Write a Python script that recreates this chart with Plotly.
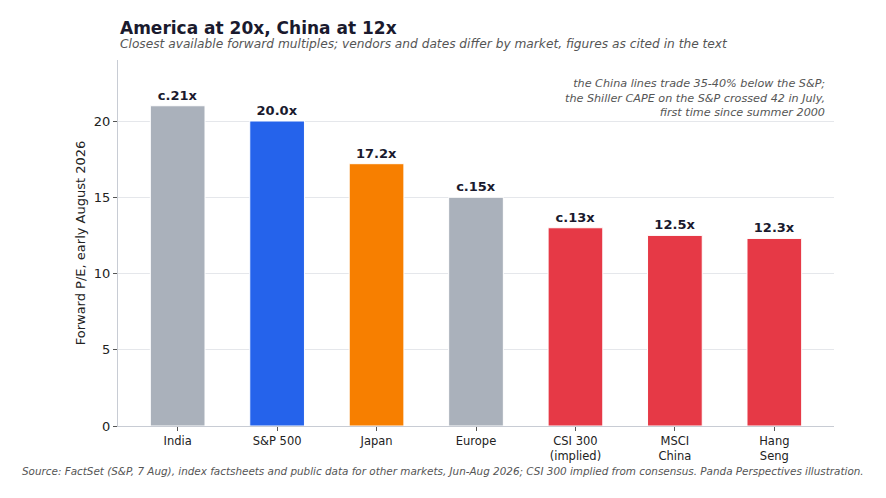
import plotly.graph_objects as go

markets = ["India", "S&P 500", "Japan", "Europe", "CSI 300<br>(implied)", "MSCI<br>China", "Hang<br>Seng"]
pe = [21.0, 20.0, 17.2, 15.0, 13.0, 12.5, 12.3]
pe_labels = ["c.21x", "20.0x", "17.2x", "c.15x", "c.13x", "12.5x", "12.3x"]
bar_colors = ["#aab1bb", "#2563eb", "#f77f00", "#aab1bb", "#e63946", "#e63946", "#e63946"]

FONT = "DejaVu Sans"

fig = go.Figure()

fig.add_trace(go.Bar(
    x=markets, y=pe,
    text=pe_labels, texttemplate="<b>%{text}</b>",
    textposition="outside", cliponaxis=False,
    textfont=dict(family=FONT, size=13, color="#1a1a2e"),
    marker=dict(color=bar_colors, line=dict(color="white", width=1)),
    width=0.55,
    hoverinfo="x+y",
))

# page is drawn with an 8px body margin, so the figure is a bit smaller
fig.update_layout(
    width=878, height=490,
    margin=dict(l=110, r=52, t=52, b=72),
    plot_bgcolor="white", paper_bgcolor="white",
    font=dict(family=FONT, size=12, color="#222"),
    showlegend=False,
)

fig.update_yaxes(
    range=[0, 24], tickvals=[0, 5, 10, 15, 20],
    showgrid=True, gridcolor="#e5e7eb", gridwidth=1,
    showline=True, linecolor="#c8ccd4", linewidth=1,
    ticks="outside", ticklen=4, tickcolor="#555",
    tickfont=dict(size=13, color="#222"),
    title=dict(text="Forward P/E, early August 2026", font=dict(size=13, color="#222"), standoff=5),
    zeroline=False,
)
fig.update_xaxes(
    range=[-0.6, 6.6],
    showline=True, linecolor="#c8ccd4", linewidth=1,
    ticks="outside", ticklen=4, tickcolor="#555",
    tickfont=dict(size=11.5, color="#222"),
)

# title and subtitle
fig.add_annotation(text="<b>America at 20x, China at 12x</b>", xref="paper", yref="paper",
                   x=0, y=1, xanchor="left", yanchor="bottom", yshift=20, showarrow=False,
                   font=dict(size=17, color="#1a1a2e"))
fig.add_annotation(text="<i>Closest available forward multiples; vendors and dates differ by market, figures as cited in the text</i>",
                   xref="paper", yref="paper", x=0, y=1, xanchor="left", yanchor="bottom", yshift=7,
                   showarrow=False, font=dict(size=12.2, color="#555"))

# note top right
fig.add_annotation(text="<i>the China lines trade 35-40% below the S&P;<br>the Shiller CAPE on the S&P crossed 42 in July,<br>first time since summer 2000</i>",
                   xref="paper", yref="paper", x=0.99, y=0.96, xanchor="right", yanchor="top",
                   align="right", showarrow=False, font=dict(size=11.2, color="#555"))

# source
fig.add_annotation(text="<i>Source: FactSet (S&P, 7 Aug), index factsheets and public data for other markets, Jun-Aug 2026; CSI 300 implied from consensus. Panda Perspectives illustration.</i>",
                   xref="paper", yref="paper", x=-0.137, y=0, xanchor="left", yanchor="top", yshift=-37,
                   showarrow=False, font=dict(size=10.4, color="#555"))

fig.write_html("out.html")
